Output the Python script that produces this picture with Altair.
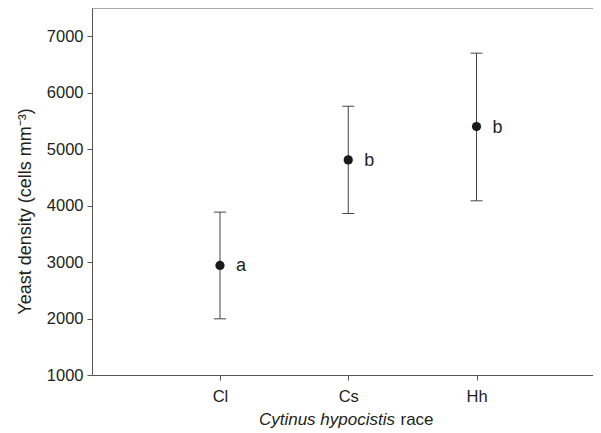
import altair as alt
import pandas as pd

# Data
races = ["Cl", "Cs", "Hh"]
means = [2940, 4810, 5400]
lower = [1995, 3860, 4085]
upper = [3885, 5760, 6700]
letters = ["a", "b", "b"]

df = pd.DataFrame({"race": races, "mean": means, "lo": lower, "hi": upper, "letter": letters})
top_df = pd.DataFrame({"top": [7500]})
title_df = pd.DataFrame({"italic": ["Cytinus hypocistis"], "plain": ["race"]})

W, H = 501, 367
FONT = "Liberation Sans"
TEXT = "#231f20"
LINE = "#555555"

yscale = alt.Scale(domain=[1000, 7500], nice=False, zero=False)
yaxis = alt.Axis(
    title="Yeast density (cells mm⁻³)",
    values=[1000, 2000, 3000, 4000, 5000, 6000, 7000],
    format="d", grid=False, tickSize=5, labelPadding=4,
    labelFontSize=16.5, titleFontSize=18, titleFontWeight="normal",
    labelFont=FONT, titleFont=FONT, labelColor=TEXT, titleColor=TEXT,
    domainColor=LINE, tickColor=LINE, titlePadding=12, titleY=203,
)
xenc = alt.X(
    "race:N", sort=races,
    scale=alt.Scale(type="point", padding=0.953, align=0.5235),
    axis=alt.Axis(title=None, labelAngle=0, labelFontSize=16.5, labelFont=FONT,
                  labelColor=TEXT, labelPadding=8, tickSize=5, grid=False,
                  domainColor=LINE, tickColor=LINE),
)

base = alt.Chart(df)

frame_top = alt.Chart(top_df).mark_rule(color=LINE, strokeWidth=1).encode(
    y=alt.Y("top:Q", scale=yscale, axis=yaxis)
)
bars = base.mark_rule(color="#444444", strokeWidth=1).encode(
    x=xenc, y=alt.Y("lo:Q", scale=yscale, axis=yaxis), y2="hi:Q"
)
cap_lo = base.mark_tick(color="#444444", thickness=1, size=12, opacity=1).encode(
    x=xenc, y=alt.Y("lo:Q", scale=yscale, axis=yaxis)
)
cap_hi = base.mark_tick(color="#444444", thickness=1, size=12, opacity=1).encode(
    x=xenc, y=alt.Y("hi:Q", scale=yscale, axis=yaxis)
)
points = base.mark_circle(size=85, color="#1a1a1a", opacity=1).encode(
    x=xenc, y=alt.Y("mean:Q", scale=yscale, axis=yaxis)
)
labels = base.mark_text(align="left", baseline="middle", dx=16, dy=1,
                        fontSize=18, font=FONT, color=TEXT).encode(
    x=xenc, y=alt.Y("mean:Q", scale=yscale, axis=yaxis), text="letter:N"
)
xt_italic = alt.Chart(title_df).mark_text(align="right", baseline="alphabetic",
                                          fontSize=17, fontStyle="italic",
                                          font=FONT, color=TEXT).encode(
    x=alt.value(303), y=alt.value(H + 50), text="italic:N"
)
xt_plain = alt.Chart(title_df).mark_text(align="left", baseline="alphabetic",
                                         fontSize=17, font=FONT, color=TEXT).encode(
    x=alt.value(308.5), y=alt.value(H + 50), text="plain:N"
)

chart = alt.layer(frame_top, bars, cap_lo, cap_hi, points, labels, xt_italic, xt_plain).properties(
    width=W, height=H,
    autosize=alt.AutoSizeParams(type="none"),
    padding={"left": 84, "top": 0, "right": 0, "bottom": 54},
    background="white",
).configure_view(stroke=None)

chart.save("out.html", embed_options={"renderer": "svg", "actions": False})
